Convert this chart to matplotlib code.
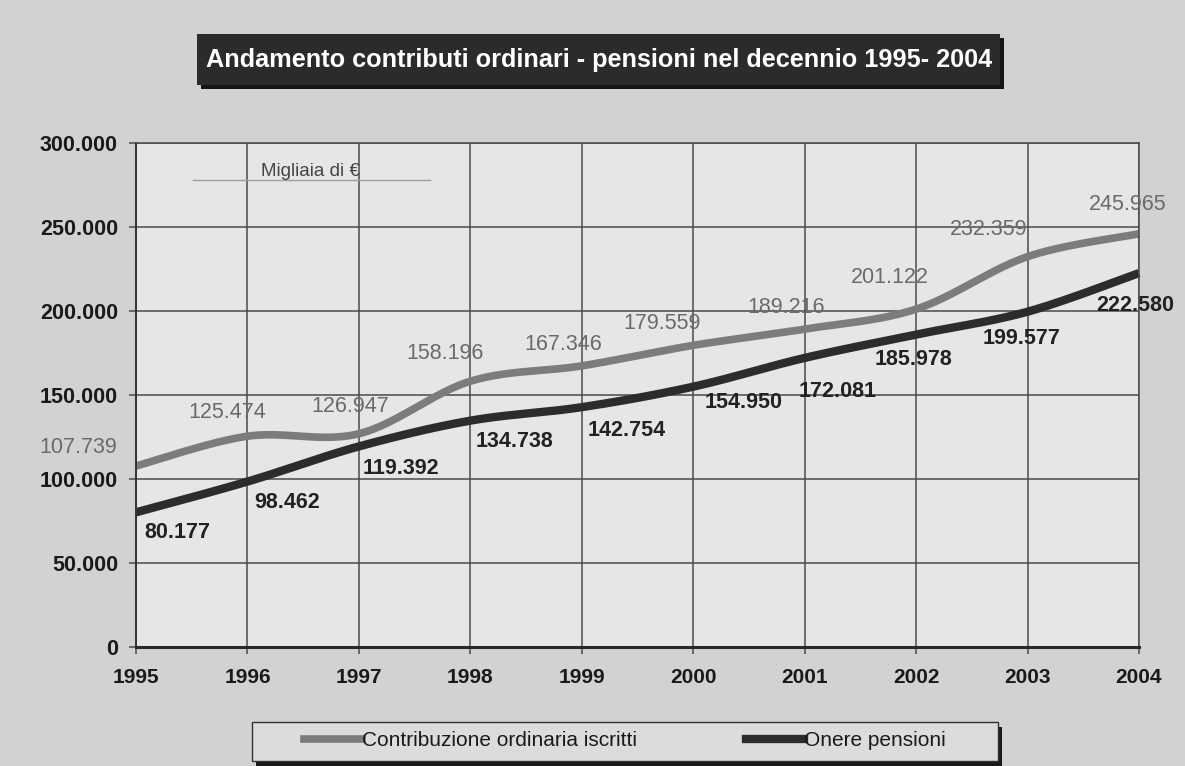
import numpy as np
import matplotlib
matplotlib.use('Agg')
import matplotlib.pyplot as plt
from matplotlib.patches import Rectangle
from matplotlib.lines import Line2D
from matplotlib.ticker import FuncFormatter, MultipleLocator

plt.rcParams['font.family'] = ['Liberation Sans', 'DejaVu Sans']

YEARS = [1995, 1996, 1997, 1998, 1999, 2000, 2001, 2002, 2003, 2004]
CONTRIBUZIONE = [107739, 125474, 126947, 158196, 167346, 179559, 189216, 201122, 232359, 245965]
PENSIONI = [80177, 98462, 119392, 134738, 142754, 154950, 172081, 185978, 199577, 222580]

TITLE = 'Andamento contributi ordinari - pensioni nel decennio 1995- 2004'
UNIT = 'Migliaia di €'
LABELS = ['Contribuzione ordinaria iscritti', 'Onere pensioni']

# label offsets from the point, in pixels (x right, y down)
OFF_CONTR = [(-58, -18), (-20, -24), (-9, -27), (-25, -28), (-19, -21),
             (-31, -22), (-19, -22), (-26, -32), (-39, -27), (-11, -29)]
OFF_PENS = [(41, 20), (40, 21), (42, 22), (44, 21), (45, 23),
            (50, 16), (33, 34), (-3, 25), (-6, 27), (-4, 32)]

W, H = 1185, 766
BG = '#d2d2d2'
PLOT_BG = '#e6e6e6'
C_LIGHT = '#7c7c7c'
C_DARK = '#2c2c2c'


def fx(px):
    return px / W


def fy(py):
    return 1 - py / H


def smooth(x, y, n=30):
    # excel-like smoothed line (catmull-rom as bezier)
    p = np.column_stack([x, y]).astype(float)
    out = []
    for i in range(len(p) - 1):
        p0 = p[i - 1] if i > 0 else p[i]
        p1, p2 = p[i], p[i + 1]
        p3 = p[i + 2] if i + 2 < len(p) else p[i + 1]
        c1 = p1 + (p2 - p0) / 6
        c2 = p2 - (p3 - p1) / 6
        t = np.linspace(0, 1, n)[:, None]
        seg = ((1 - t) ** 3) * p1 + 3 * ((1 - t) ** 2) * t * c1 + 3 * (1 - t) * t ** 2 * c2 + t ** 3 * p2
        out.append(seg if i == 0 else seg[1:])
    s = np.vstack(out)
    return s[:, 0], s[:, 1]


def fmt_it(v, pos=None):
    return f'{v:,.0f}'.replace(',', '.')


fig = plt.figure(figsize=(W / 100, H / 100), dpi=100)
fig.patch.set_facecolor(BG)

ax = fig.add_axes([fx(136), fy(647), fx(1139) - fx(136), fy(143) - fy(647)])
ax.set_facecolor(PLOT_BG)
ax.set_xlim(YEARS[0], YEARS[-1])
ax.set_ylim(0, 300000)
ax.yaxis.set_major_locator(MultipleLocator(50000))
ax.yaxis.set_major_formatter(FuncFormatter(fmt_it))
ax.set_xticks(YEARS)
ax.grid(True, color='#4a4a4a', linewidth=1.1)
ax.set_axisbelow(True)
for side in ['top', 'right']:
    ax.spines[side].set_color('#4a4a4a')
    ax.spines[side].set_linewidth(1.1)
ax.spines['left'].set_color('#333333')
ax.spines['left'].set_linewidth(1.4)
ax.spines['bottom'].set_color('#2a2a2a')
ax.spines['bottom'].set_linewidth(2.2)
ax.tick_params(axis='y', length=5, width=1.1, color='#4a4a4a', pad=8,
               labelsize=15.5, labelcolor='#1a1a1a')
ax.tick_params(axis='x', length=5, width=1.1, color='#4a4a4a', pad=10,
               labelsize=15, labelcolor='#1a1a1a')
for lab in ax.get_xticklabels() + ax.get_yticklabels():
    lab.set_fontweight('bold')

xs, ys = smooth(YEARS, CONTRIBUZIONE)
ax.plot(xs, ys, color=C_LIGHT, linewidth=5.5, solid_capstyle='butt', clip_on=False)
xs, ys = smooth(YEARS, PENSIONI)
ax.plot(xs, ys, color=C_DARK, linewidth=6, solid_capstyle='butt', clip_on=False)

for x, v, (dx, dy) in zip(YEARS, CONTRIBUZIONE, OFF_CONTR):
    ax.annotate(fmt_it(v), (x, v), xytext=(dx * 0.72, -dy * 0.72), textcoords='offset points',
                ha='center', va='center', fontsize=15.5, color='#6a6a6a', annotation_clip=False)
for x, v, (dx, dy) in zip(YEARS, PENSIONI, OFF_PENS):
    ax.annotate(fmt_it(v), (x, v), xytext=(dx * 0.72, -dy * 0.72), textcoords='offset points',
                ha='center', va='center', fontsize=15.5, color='#222222', fontweight='bold',
                annotation_clip=False)

# unit label
fig.text(fx(310), fy(171), UNIT, ha='center', va='center', fontsize=13.5, color='#444444')
fig.add_artist(Line2D([fx(193), fx(430)], [fy(180), fy(180)], color='#a0a0a0', linewidth=1))

# title box
fig.patches.append(Rectangle((fx(201), fy(89)), fx(803), fy(38) - fy(89),
                             transform=fig.transFigure, facecolor='#151515', edgecolor='none'))
fig.patches.append(Rectangle((fx(197), fy(85)), fx(803), fy(34) - fy(85),
                             transform=fig.transFigure, facecolor='#2b2b2b', edgecolor='none'))
fig.text(fx(599), fy(60), TITLE, ha='center', va='center', fontsize=18.2,
         fontweight='bold', color='white')

# legend box
fig.patches.append(Rectangle((fx(256), fy(768)), fx(746), fy(727) - fy(768),
                             transform=fig.transFigure, facecolor='#1a1a1a', edgecolor='none'))
fig.patches.append(Rectangle((fx(252), fy(761)), fx(746), fy(722) - fy(761),
                             transform=fig.transFigure, facecolor='#dcdcdc',
                             edgecolor='#333333', linewidth=1))
handles = [Line2D([], [], color=C_LIGHT, linewidth=5.5), Line2D([], [], color=C_DARK, linewidth=6)]
leg = fig.legend(handles, LABELS, loc='center', bbox_to_anchor=(fx(625), fy(741)), ncol=2,
                 frameon=False, handlelength=2.8, handletextpad=0.0, columnspacing=5.2,
                 prop={'family': ['Liberation Sans Narrow', 'Liberation Sans'], 'size': 15})
for t in leg.get_texts():
    t.set_color('#1a1a1a')

fig.savefig('out.png', dpi=100, facecolor=fig.get_facecolor())
